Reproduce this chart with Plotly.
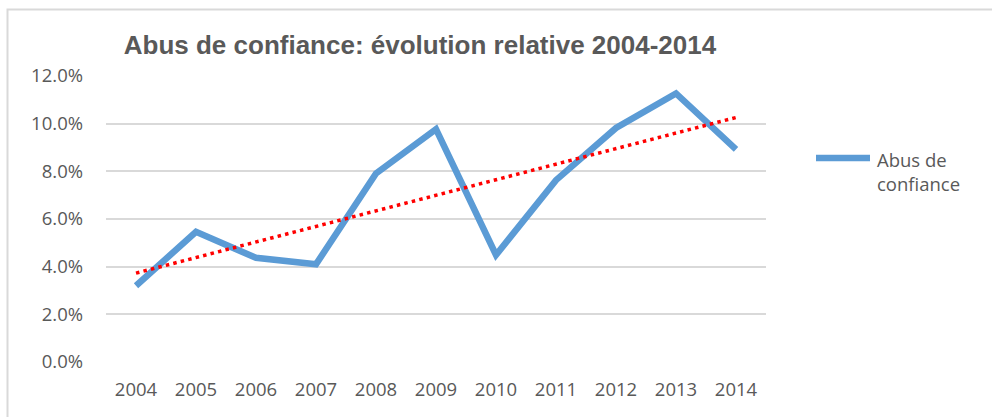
import numpy as np
import plotly.graph_objects as go

# Data
years = ["2004", "2005", "2006", "2007", "2008", "2009",
         "2010", "2011", "2012", "2013", "2014"]
abus_de_confiance = [0.032, 0.0546, 0.0437, 0.041, 0.0791, 0.0977,
                     0.0449, 0.0763, 0.0982, 0.1127, 0.0892]
series_name = "Abus de confiance"
y_ticks = [0.0, 0.02, 0.04, 0.06, 0.08, 0.10, 0.12]
title_text = "Abus de confiance: évolution relative 2004-2014"

# Linear trend fitted on the series
idx = np.arange(len(years))
slope, intercept = np.polyfit(idx, abus_de_confiance, 1)
trend = slope * idx + intercept

# Layout geometry (pixels)
W, H = 992, 417
L, R, T, B = 106, 766, 76, 362
pw, ph = R - L, B - T


def px_x(p):
    return (p - L) / pw


def px_y(p):
    return (B - p) / ph


TEXT = "#595959"
GRID = "#d9d9d9"
BLUE = "#5b9bd5"
TICK_FONT = dict(family="Open Sans", size=18.5, color=TEXT)

fig = go.Figure()
fig.add_trace(go.Scatter(
    x=years, y=abus_de_confiance, mode="lines", name=series_name,
    line=dict(color=BLUE, width=6.5), showlegend=False,
))
fig.add_trace(go.Scatter(
    x=years, y=trend, mode="lines", name="Linéaire",
    line=dict(color="#ff0000", width=3.5, dash="3.5px,4.2px"),
    showlegend=False,
))

# Chart frame (top and left edges visible)
frame_l, frame_t = 7.5, 9.5
fig.add_shape(type="path", xref="paper", yref="paper",
              path=f"M {px_x(frame_l)} {px_y(H + 20)} L {px_x(frame_l)} {px_y(frame_t)} "
                   f"L {px_x(W + 20)} {px_y(frame_t)}",
              line=dict(color=GRID, width=2))

# Legend: line sample and wrapped label
fig.add_shape(type="line", xref="paper", yref="paper",
              x0=px_x(816), x1=px_x(870), y0=px_y(158), y1=px_y(158),
              line=dict(color=BLUE, width=6.5))
fig.add_annotation(xref="paper", yref="paper", x=px_x(875), y=px_y(171),
                   xanchor="left", yanchor="middle", showarrow=False,
                   align="left", text="Abus de<br>confiance", font=TICK_FONT)

fig.update_layout(
    width=W, height=H,
    margin=dict(l=L, r=W - R, t=T, b=H - B, pad=0),
    paper_bgcolor="white", plot_bgcolor="white",
    title=dict(text=f"<b>{title_text}</b>", x=420 / W, y=1 - 45 / H,
               xanchor="center", yanchor="middle", xref="container", yref="container",
               font=dict(family="Liberation Sans", size=26, color=TEXT)),
    showlegend=False,
)
fig.update_xaxes(
    type="category", range=[-0.5, len(years) - 0.5],
    showgrid=False, showline=False, zeroline=False,
    ticks="", tickfont=TICK_FONT, ticklabelstandoff=14,
)
fig.update_yaxes(
    range=[0, 0.12], tickvals=y_ticks, tickformat=".1%",
    showgrid=True, gridcolor=GRID, gridwidth=2, zeroline=False,
    showline=False, ticks="", tickfont=TICK_FONT, ticklabelstandoff=22,
)

fig.write_html("out.html")
